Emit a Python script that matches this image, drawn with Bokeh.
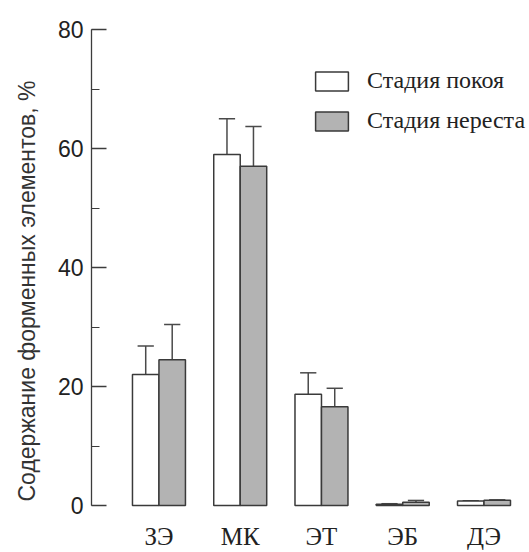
from bokeh.plotting import figure
from bokeh.models import Range1d, SingleIntervalTicker, Legend, LegendItem, ColumnDataSource
from bokeh.core.properties import value
from bokeh.embed import file_html
from bokeh.resources import INLINE

# ---- data ----
categories = ["ЗЭ", "МК", "ЭТ", "ЭБ", "ДЭ"]
rest_vals = [22.0, 59.0, 18.7, 0.2, 0.75]
rest_err = [4.8, 6.0, 3.6, 0.1, 0.05]
spawn_vals = [24.5, 57.0, 16.6, 0.55, 0.9]
spawn_err = [5.9, 6.7, 3.1, 0.3, 0.05]
series_names = ["Стадия покоя", "Стадия нереста"]
y_ticks_interval = 20
y_max = 80

# ---- layout ----
W, H = 529, 552
top_px, zero_px = 29, 505
ppu = (zero_px - top_px) / y_max          # pixels per y unit
y_start = -(H - zero_px) / ppu            # extend frame below zero for category labels
p = figure(width=W, height=H, output_backend="svg", toolbar_location=None,
           x_range=Range1d(0.1698, 5.56), y_range=Range1d(y_start, y_max),
           x_axis_location=None, min_border_left=91, min_border_right=0,
           min_border_top=top_px, min_border_bottom=0)
p.outline_line_color = None
p.xgrid.visible = False
p.ygrid.visible = False
p.background_fill_color = "white"
p.border_fill_color = "white"

bw = 0.326
xs = list(range(1, len(categories) + 1))
x_rest = [x - bw / 2 for x in xs]
x_spawn = [x + bw / 2 for x in xs]

cap = 0.1
err_color = "#4a4a4a"
bar_line = "#3a3a3a"

def draw(xc, vals, errs, fill):
    src = ColumnDataSource(dict(x=xc, top=vals))
    tops = [v + e for v, e in zip(vals, errs)]
    p.segment(x0=xc, y0=vals, x1=xc, y1=tops, line_color=err_color, line_width=1.5)
    p.segment(x0=[x - cap for x in xc], y0=tops, x1=[x + cap for x in xc], y1=tops,
              line_color=err_color, line_width=1.5)
    r = p.vbar(x="x", top="top", bottom=0, width=bw, source=src, fill_color=fill,
               line_color=bar_line, line_width=1.5)
    return r

r1 = draw(x_rest, rest_vals, rest_err, "white")
r2 = draw(x_spawn, spawn_vals, spawn_err, "#b3b3b3")

# y axis
ax = p.yaxis[0]
ax.bounds = (0, y_max)
ax.ticker = SingleIntervalTicker(interval=y_ticks_interval, num_minor_ticks=2)
ax.major_tick_in = 15
ax.major_tick_out = 0
ax.minor_tick_in = 8
ax.minor_tick_out = 0
ax.axis_line_color = "#3c3c3c"
ax.major_tick_line_color = "#3c3c3c"
ax.minor_tick_line_color = "#3c3c3c"
ax.axis_line_width = 1.3
ax.major_tick_line_width = 1.3
ax.minor_tick_line_width = 1.0
ax.major_label_text_font = "Liberation Sans"
ax.major_label_text_font_size = "23px"
ax.major_label_text_color = "#222222"
ax.major_label_standoff = 8
ax.axis_label = "Содержание форменных элементов, %"
ax.axis_label_text_font = "Liberation Sans"
ax.axis_label_text_font_size = "23px"
ax.axis_label_text_font_style = "normal"
ax.axis_label_text_color = "#333333"
ax.axis_label_standoff = 15

# category labels (serif)
lab_y = -(536 - zero_px) / ppu
p.text(x=xs, y=[lab_y] * len(xs), text=categories, text_align="center",
       text_baseline="middle", text_font=value("Liberation Serif"),
       text_font_size="25px", text_color="#222222")

legend = Legend(items=[LegendItem(label=series_names[0], renderers=[r1]),
                       LegendItem(label=series_names[1], renderers=[r2])],
                location=(220, 371 + (H - zero_px)), glyph_width=41, glyph_height=24,
                label_standoff=15, spacing=13, padding=0, margin=0,
                border_line_color=None, background_fill_alpha=0,
                label_text_font="Liberation Serif", label_text_font_size="24px",
                label_text_color="#222222", label_height=24)
p.add_layout(legend)

open("out.html", "w").write(file_html(p, INLINE))
